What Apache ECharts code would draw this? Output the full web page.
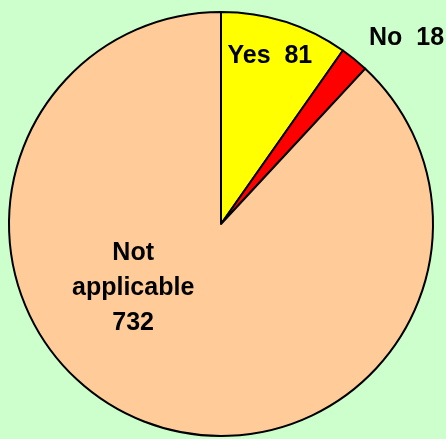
<!DOCTYPE html>
<html><head><meta charset="utf-8">
<script src="https://cdn.jsdelivr.net/npm/echarts@6/dist/echarts.min.js"></script>
<style>html,body{margin:0;padding:0;background:#CCFFCC;}#c{width:446px;height:439px;}</style>
</head><body><div id="c"></div>
<script>
const categories = ["Yes", "No", "Not applicable"];
const values = [81, 18, 732];
const colors = ["#FFFF00", "#FF0000", "#FFCC99"];
const labelTexts = ["Yes  81", "No  18", "Not\napplicable\n732"];
const labelOffsets = [[16, -64], [117, -101], [-48, -37]];

const chart = echarts.init(document.getElementById('c'), null, {renderer: 'canvas'});
chart.setOption({
  backgroundColor: '#CCFFCC',
  animation: false,
  series: [{
    type: 'pie',
    center: [221, 224],
    radius: [0, 212],
    startAngle: 90,
    clockwise: true,
    avoidLabelOverlap: false,
    labelLine: {show: false},
    itemStyle: {borderColor: '#000', borderWidth: 2},
    emphasis: {disabled: true},
    data: categories.map((c, i) => ({
      name: c,
      value: values[i],
      itemStyle: {color: colors[i]},
      label: {
        show: true,
        position: 'inside',
        formatter: labelTexts[i],
        offset: labelOffsets[i],
        color: '#000',
        fontFamily: 'Liberation Sans, Arial, sans-serif',
        fontWeight: 'bold',
        fontSize: 25,
        lineHeight: 35,
        align: 'center'
      }
    }))
  }]
});
</script></body></html>
